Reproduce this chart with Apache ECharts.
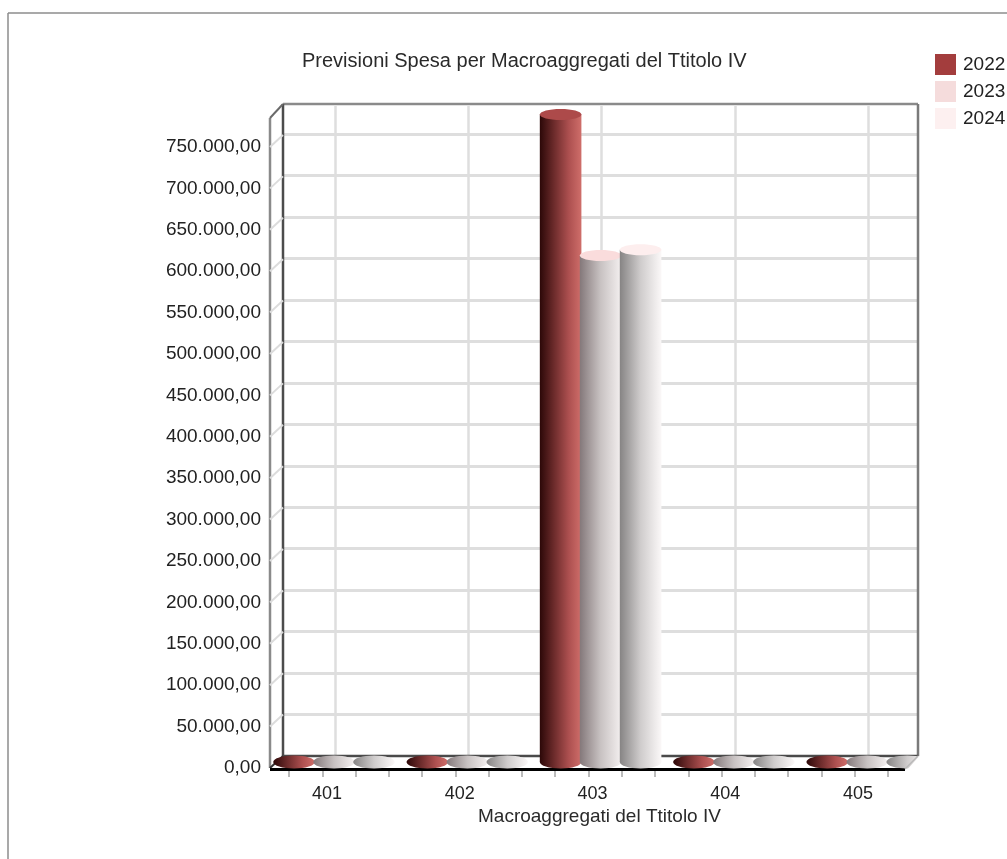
<!DOCTYPE html>
<html><head><meta charset="utf-8">
<style>html,body{margin:0;padding:0;background:#fff}#c{width:1007px;height:859px}</style>
<script src="https://cdn.jsdelivr.net/npm/echarts@6/dist/echarts.min.js"></script>
</head><body><div id="c"></div>
<script>
const categories = ['401','402','403','404','405'];
const years = ['2022','2023','2024'];
const values2022 = [0,0,781000,0,0];
const values2023 = [0,0,611000,0,0];
const values2024 = [0,0,618000,0,0];
const yTicks = [50000,100000,150000,200000,250000,300000,350000,400000,450000,500000,550000,600000,650000,700000,750000];
const chartTitle = 'Previsioni Spesa per Macroaggregati del Ttitolo IV';
const xTitle = 'Macroaggregati del Ttitolo IV';
const yMax = 784000;
const labelMax = 785000;
const font = 'Liberation Sans';
const legendColors = ['#a33d3d','#f5dcdc','#fdf0f0'];
const stops = [
  [[0,'#2c0808'],[0.35,'#6e2c2c'],[0.7,'#ad5050'],[1,'#cf6e6a']],
  [[0,'#84787a'],[0.5,'#c8c2c2'],[1,'#f4f0f0']],
  [[0,'#868484'],[0.5,'#cfcccc'],[1,'#fbf8f8']]
];
const tops = ['#ad4a4a','#fadcdc','#fdeeee'];
const fmt = v => String(Math.floor(v)).replace(/\B(?=(\d{3})+$)/g,'.') + ',00';

function cylinder(i){
  return function(params, api){
    const cat = api.value(0), val = api.value(1);
    const base = api.coord([cat,0]), top = api.coord([cat,val]);
    const w = api.size([1,0])[0] * 0.3;
    const cx = base[0] + (i-1)*w, rx = w/2+0.8, ry = 6.5;
    const fill = new echarts.graphic.LinearGradient(0,0,1,0,stops[i].map(s=>({offset:s[0],color:s[1]})));
    const kids = [{type:'ellipse',shape:{cx,cy:base[1],rx,ry},style:{fill}}];
    if (val > 0) {
      kids.push({type:'rect',shape:{x:cx-rx,y:top[1],width:rx*2,height:base[1]-top[1]},style:{fill}});
      kids.push({type:'ellipse',shape:{cx,cy:top[1],rx,ry:5.5},style:{fill:tops[i]}});
    }
    return {type:'group',children:kids};
  };
}
const barData = [values2022,values2023,values2024];
const barSeries = years.map((y,i)=>({
  type:'custom',name:y,xAxisIndex:3,yAxisIndex:3,z:10,clip:false,
  itemStyle:{color:legendColors[i]},
  encode:{x:0,y:1},
  renderItem:cylinder(i),
  data:barData[i].map((v,k)=>[k,v])
}));
const wallSeries = {
  type:'custom',name:'wall',xAxisIndex:2,yAxisIndex:2,z:3,clip:false,silent:true,
  encode:{y:0},
  renderItem:(p,api)=>{
    const c = api.coord([0,api.value(0)]);
    return {type:'line',shape:{x1:270,y1:c[1],x2:283,y2:c[1]-12},style:{stroke:'#dcdcdc',lineWidth:2}};
  },
  data:yTicks.map(v=>[v])
};
const hiddenY = i => ({type:'value',gridIndex:i,min:0,max:yMax,show:false});
const poly = (points,fill,z) => ({type:'polygon',z,shape:{points},style:{fill}});
const ln = (x1,y1,x2,y2,stroke,lineWidth,z=2) => ({type:'line',z,shape:{x1,y1,x2,y2},style:{stroke,lineWidth}});

const chart = echarts.init(document.getElementById('c'),null,{renderer:'canvas'});
chart.setOption({
  animation:false,
  backgroundColor:'#fff',
  title:[
    {text:chartTitle,left:297,top:46,textStyle:{fontFamily:font,fontSize:20,fontWeight:'normal',color:'#2a2a2a'}},
    {text:xTitle,left:473,top:802,textStyle:{fontFamily:font,fontSize:19,fontWeight:'normal',color:'#2a2a2a'}}
  ],
  legend:{orient:'vertical',left:930,top:49,itemWidth:21,itemHeight:21,itemGap:6,data:years,
    textStyle:{fontFamily:font,fontSize:19,color:'#222',padding:[0,0,0,2]},icon:'rect',itemStyle:{borderWidth:0}},
  grid:[
    {left:283,width:635,top:106,height:650},
    {left:335,width:533,top:106,height:650},
    {left:270,width:635,top:118,height:650},
    {left:267.35,width:666.5,top:112,height:650},
    {left:260.6,width:663.75,top:118,height:650},
    {left:289,width:599,top:120,height:650}
  ],
  xAxis:[
    {type:'value',gridIndex:0,show:false,min:0,max:1},
    {type:'value',gridIndex:1,min:0,max:4,interval:1,axisLine:{show:false},axisTick:{show:false},axisLabel:{show:false},
      splitLine:{show:true,lineStyle:{color:'#dedede',width:2.5}}},
    {type:'value',gridIndex:2,show:false,min:0,max:1},
    {type:'category',gridIndex:3,data:categories,show:false},
    {type:'category',gridIndex:4,data:categories,axisLine:{show:false},axisTick:{show:false},
      axisLabel:{margin:17,fontFamily:font,fontSize:18,color:'#222'}},
    {type:'value',gridIndex:5,min:0,max:18,interval:1,axisLine:{show:false},axisLabel:{show:false},splitLine:{show:false},
      axisTick:{length:7,lineStyle:{color:'#bbbbbb',width:2}}}
  ],
  yAxis:[
    {type:'value',gridIndex:0,min:0,max:yMax,interval:50000,axisLine:{show:false},axisTick:{show:false},axisLabel:{show:false},
      splitLine:{show:true,showMinLine:false,showMaxLine:false,lineStyle:{color:'#dedede',width:3}}},
    hiddenY(1),
    {type:'value',gridIndex:2,min:0,max:labelMax,interval:50000,axisLine:{show:false},axisTick:{show:false},splitLine:{show:false},
      axisLabel:{margin:9,padding:[5,0,0,0],showMaxLabel:false,fontFamily:font,fontSize:19,color:'#222',formatter:fmt}},
    hiddenY(3),hiddenY(4),hiddenY(5)
  ],
  graphic:{elements:[
    ln(8,13,1007,13,'#8c8c8c',1.5),
    ln(8,13,8,859,'#8c8c8c',1.5),
    poly([[270,768],[283,756],[918,756],[905,768]],'#ffffff',1),
    ln(283,104,918,104,'#8a8a8a',2.5),
    ln(918,104,918,756,'#7a7a7a',2.5),
    ln(283,104,283,756,'#4c4c4c',2.5),
    ln(283,756,918,756,'#4a4a4a',2.5),
    ln(270,118,270,768,'#8a8a8a',2.5),
    ln(270,118,283,104,'#6a6a6a',2),
    ln(270,768,283,756,'#333333',2),
    ln(270,769.5,905,769.5,'#000000',3),
    poly([[905.5,771.5],[919,756.5],[934,756.5],[934,772]],'#ffffff',20),
    ln(905,769,918,756,'#b8b8b8',1.5,21)
  ]},
  series:[wallSeries,...barSeries]
});
</script></body></html>
